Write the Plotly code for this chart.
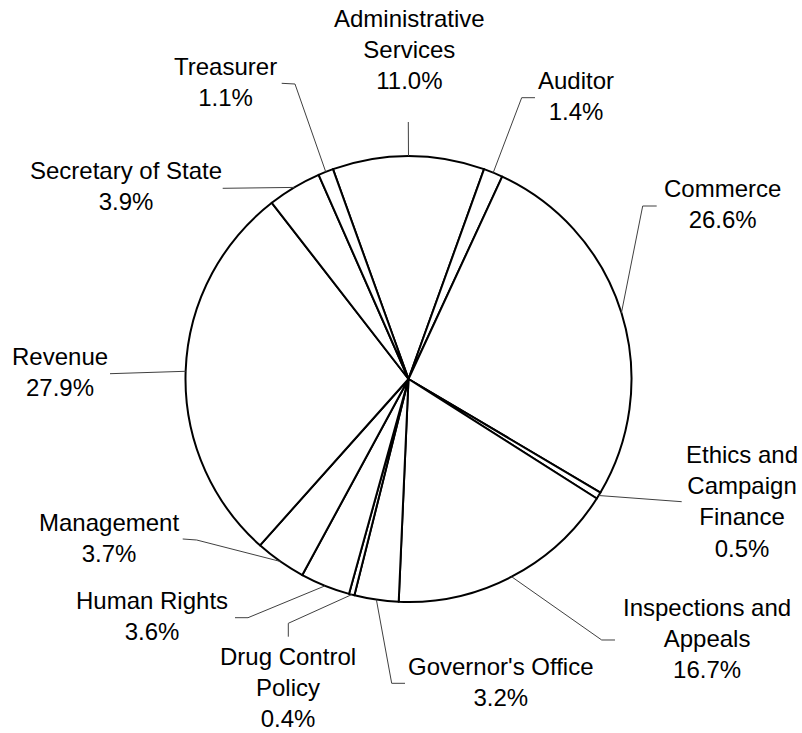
import numpy as np
import plotly.graph_objects as go

# ---- data (clockwise from 12 o'clock) ----
departments = ["Administrative<br>Services", "Auditor", "Commerce",
               "Ethics and<br>Campaign<br>Finance", "Inspections and<br>Appeals",
               "Governor's Office", "Drug Control<br>Policy", "Human Rights",
               "Management", "Revenue", "Secretary of State", "Treasurer"]
shares = [11.0, 1.4, 26.6, 0.5, 16.7, 3.2, 0.4, 3.6, 3.7, 27.9, 3.9, 1.1]

# ---- layout (pixels) ----
W, H = 802, 733
cx, cy, R = 408.5, 379.0, 223.0
# label block centre and leader bend points (pixel coords)
label_pos = [(409, 49), (576, 96), (722, 204), (742, 501), (707, 638),
             (501, 682), (288, 687), (152, 616), (109, 538), (60, 372),
             (126, 186), (225, 82)]
leader_pts = [
    [(408.3, 122)],
    [(535, 97.7), (521.7, 97.7)],
    [(656.7, 206), (642.7, 206)],
    [(681.7, 501.7)],
    [(615, 640), (601.7, 640)],
    [(405, 683.3), (391.7, 683.3)],
    [(288.3, 636.7), (288.3, 623.3)],
    [(235, 617.7), (248, 617.7)],
    [(182.7, 539), (196.7, 540)],
    [(110, 373.7)],
    [(222.7, 188.3)],
    [(281.7, 83.3), (295, 84)],
]

def fx(px):
    return px / W

def fy(py):
    return 1 - py / H

total = sum(shares)
rotation = -shares[0] / total * 180.0

fig = go.Figure(go.Pie(
    labels=departments, values=shares, sort=False, direction="clockwise",
    rotation=rotation, textinfo="none", hoverinfo="label+percent",
    marker=dict(colors=["white"] * len(shares), line=dict(color="black", width=2)),
    domain=dict(x=[fx(cx - R), fx(cx + R)], y=[fy(cy + R), fy(cy - R)]),
))

# leader lines from the middle of each slice's arc
cum = np.cumsum([0] + shares[:-1])
shapes = []
annotations = []
for i, (lab, v) in enumerate(zip(departments, shares)):
    mid = np.deg2rad(rotation + (cum[i] + v / 2) / total * 360.0)
    ax_, ay_ = cx + R * np.sin(mid), cy - R * np.cos(mid)
    pts = leader_pts[i] + [(ax_, ay_)]
    path = "M " + " L ".join(f"{fx(x):.5f},{fy(y):.5f}" for x, y in pts)
    shapes.append(dict(type="path", path=path, xref="paper", yref="paper",
                       line=dict(color="#404040", width=1)))
    lx, ly = label_pos[i]
    annotations.append(dict(
        text=f"{lab}<br>{v:.1f}%", x=fx(lx), y=fy(ly), xref="paper", yref="paper",
        xanchor="center", yanchor="middle", showarrow=False, align="center",
        font=dict(family="Liberation Sans, Arial, sans-serif", size=24, color="black"),
    ))

fig.update_layout(
    width=W, height=H, margin=dict(l=0, r=0, t=0, b=0),
    paper_bgcolor="white", plot_bgcolor="white", showlegend=False,
    shapes=shapes, annotations=annotations,
)
fig.write_html("out.html", config={"displayModeBar": False},
               post_script="document.body.style.margin='0';document.body.style.padding='0';document.body.style.overflow='hidden';")
